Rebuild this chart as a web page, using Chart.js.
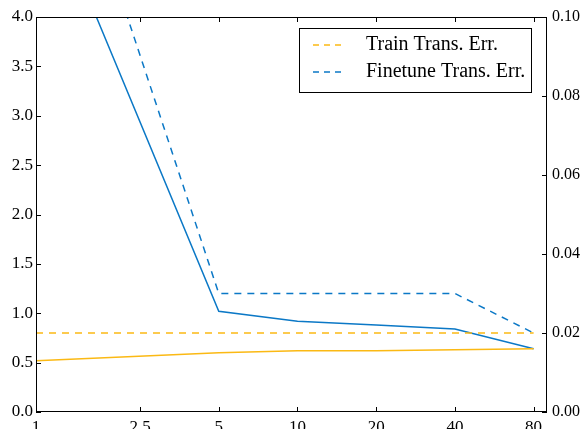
<!DOCTYPE html>
<html><head><meta charset="utf-8">
<script src="https://cdn.jsdelivr.net/npm/chart.js@4.4.0/dist/chart.umd.min.js"></script>
<style>
html,body{margin:0;padding:0;overflow:hidden;background:#fff;width:583px;height:429px}
#wrap{position:relative;width:583px;height:445px}
</style></head>
<body><div id="wrap"><canvas id="c" width="583" height="445"></canvas></div>
<script>
// ---- data ----
const xValues = [1, 5, 10, 20, 40, 80];
const trainTransErr = [0.02, 0.02, 0.02, 0.02, 0.02, 0.02];      // right axis, dashed
const finetuneTransErr = [0.17, 0.03, 0.03, 0.03, 0.03, 0.02];   // right axis, dashed
const trainSolid = [0.52, 0.60, 0.62, 0.62, 0.63, 0.64];          // left axis, solid
const finetuneSolid = [5.47, 1.02, 0.92, 0.88, 0.84, 0.64];       // left axis, solid
const xTickValues = [1, 2.5, 5, 10, 20, 40, 80];
const xTickLabels = ['1', '2.5', '5', '10', '20', '40', '80'];
const leftTickValues = [0, 0.5, 1, 1.5, 2, 2.5, 3, 3.5, 4];
const leftTickLabels = ['0.0', '0.5', '1.0', '1.5', '2.0', '2.5', '3.0', '3.5', '4.0'];
const rightTickValues = [0, 0.02, 0.04, 0.06, 0.08, 0.10];
const rightTickLabels = ['0.00', '0.02', '0.04', '0.06', '0.08', '0.10'];

const BLUE = '#0B78C6';
const YELLOW = '#FBB914';
const FAMILY = '"Liberation Serif", "Times New Roman", serif';
const FONT = {family: FAMILY, size: 17};
const FONT_R = {family: FAMILY, size: 16};

const pts = arr => xValues.map((x, i) => ({x, y: arr[i]}));

const frameAndLegend = {
  id: 'frameAndLegend',
  afterDraw(chart) {
    const {ctx, chartArea: a, scales} = chart;
    ctx.save();
    ctx.strokeStyle = '#000';
    ctx.lineWidth = 1;
    const L = 5;
    ctx.beginPath();
    scales.x.ticks.forEach(t => {
      const px = Math.round(scales.x.getPixelForValue(t.value)) + 0.5;
      ctx.moveTo(px, a.bottom); ctx.lineTo(px, a.bottom - L);
      ctx.moveTo(px, a.top); ctx.lineTo(px, a.top + L);
    });
    scales.y.ticks.forEach(t => {
      const py = Math.round(scales.y.getPixelForValue(t.value)) + 0.5;
      ctx.moveTo(a.left, py); ctx.lineTo(a.left + L, py);
    });
    scales.y1.ticks.forEach(t => {
      const py = Math.round(scales.y1.getPixelForValue(t.value)) + 0.5;
      ctx.moveTo(a.right, py); ctx.lineTo(a.right - L, py);
    });
    ctx.stroke();
    ctx.strokeRect(Math.round(a.left) + 0.5, Math.round(a.top) + 0.5,
                   Math.round(a.right - a.left) - 1, Math.round(a.bottom - a.top) - 1);

    // legend
    const items = chart.data.datasets.filter(d => d.showInLegend);
    const bx = a.right - 248, by = a.top + 11, bw = 232, bh = 64;
    ctx.fillStyle = '#fff';
    ctx.fillRect(bx, by, bw, bh);
    ctx.strokeStyle = '#000';
    ctx.strokeRect(bx + 0.5, by + 0.5, bw, bh);
    ctx.font = `20px ${FAMILY}`;
    ctx.textBaseline = 'middle';
    items.forEach((d, i) => {
      const y = by + 17 + i * 27;
      ctx.save();
      ctx.strokeStyle = d.borderColor;
      ctx.lineWidth = 1.5;
      ctx.setLineDash([6, 5]);
      ctx.beginPath();
      ctx.moveTo(bx + 14, y); ctx.lineTo(bx + 44, y);
      ctx.stroke();
      ctx.restore();
      ctx.fillStyle = '#000';
      ctx.fillText(d.label, bx + 67, y);
    });
    ctx.restore();
  }
};

new Chart(document.getElementById('c'), {
  type: 'line',
  data: {
    datasets: [
      {label: 'Train Trans. Err.', data: pts(trainTransErr), yAxisID: 'y1', borderColor: YELLOW,
       borderDash: [7, 6], borderWidth: 1.5, pointRadius: 0, showInLegend: true},
      {label: 'Finetune Trans. Err.', data: pts(finetuneTransErr), yAxisID: 'y1', borderColor: BLUE,
       borderDash: [7, 6], borderWidth: 1.5, pointRadius: 0, showInLegend: true},
      {label: 'train', data: pts(trainSolid), yAxisID: 'y', borderColor: YELLOW,
       borderWidth: 1.5, pointRadius: 0},
      {label: 'finetune', data: pts(finetuneSolid), yAxisID: 'y', borderColor: BLUE,
       borderWidth: 1.5, pointRadius: 0}
    ]
  },
  options: {
    responsive: false,
    animation: false,
    layout: {padding: {top: 17, left: 0, right: 0, bottom: 0}},
    plugins: {legend: {display: false}, tooltip: {enabled: false}},
    elements: {line: {tension: 0, fill: false}},
    scales: {
      x: {
        type: 'logarithmic', position: 'bottom', min: 1, max: 90,
        afterBuildTicks: s => { s.ticks = xTickValues.map(v => ({value: v})); },
        afterFit: s => { s.height = 33; },
        grid: {display: false, drawTicks: false},
        border: {display: false},
        ticks: {autoSkip: false, maxRotation: 0, minRotation: 0, padding: 5, color: '#000', font: FONT,
                callback: (v, i) => xTickLabels[i]}
      },
      y: {
        type: 'linear', position: 'left', min: 0, max: 4,
        afterBuildTicks: s => { s.ticks = leftTickValues.map(v => ({value: v})); },
        afterFit: s => { s.width = 36; },
        grid: {display: false, drawTicks: false},
        border: {display: false},
        ticks: {padding: 3, color: '#000', font: FONT, callback: (v, i) => leftTickLabels[i]}
      },
      y1: {
        type: 'linear', position: 'right', min: 0, max: 0.10,
        afterBuildTicks: s => { s.ticks = rightTickValues.map(v => ({value: v})); },
        afterFit: s => { s.width = 36; },
        grid: {display: false, drawTicks: false},
        border: {display: false},
        ticks: {padding: 5, color: '#000', font: FONT_R, callback: (v, i) => rightTickLabels[i]}
      }
    }
  },
  plugins: [frameAndLegend]
});
</script>
</body></html>
